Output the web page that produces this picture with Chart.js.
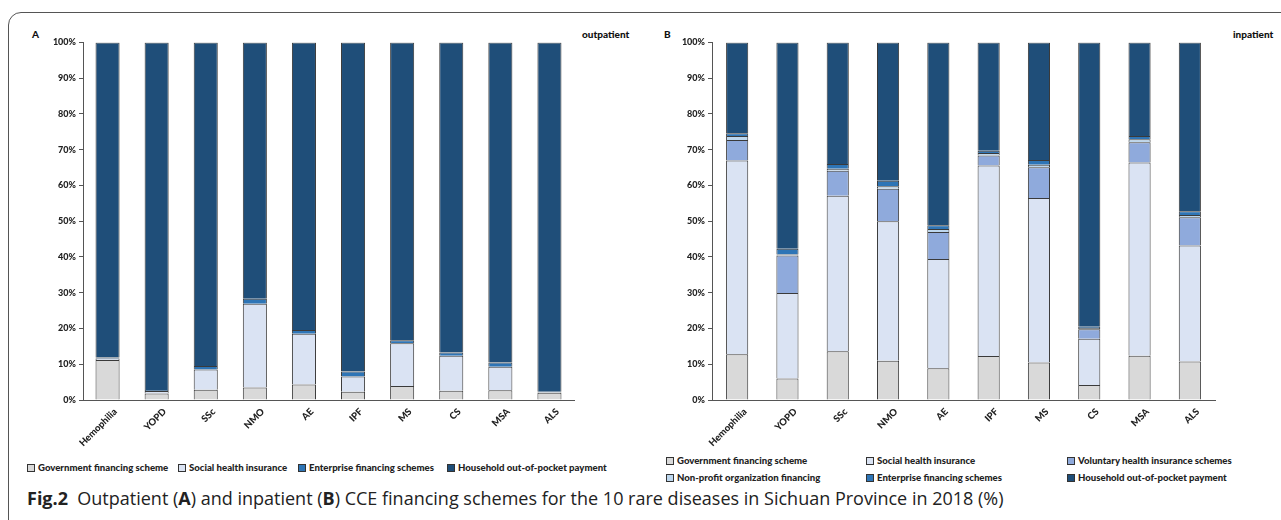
<!DOCTYPE html>
<html>
<head>
<meta charset="utf-8">
<script src="https://cdn.jsdelivr.net/npm/chart.js@4.4.1/dist/chart.umd.min.js"></script>
<style>
  body { margin: 0; background: #fff; width: 1281px; height: 520px; overflow: hidden; position: relative; font-family: 'Lato', sans-serif; }
  .frame { position: absolute; left: 8px; top: 12px; width: 1320px; height: 530px; border: 1.5px solid #555; border-radius: 13px; box-sizing: border-box; }
  canvas { position: absolute; }
  .tag { position: absolute; font-weight: 900; font-size: 10px; color: #111; }
  .legend { position: absolute; font-weight: 900; font-size: 9.6px; color: #222; white-space: nowrap; }
  .legend span.item { position: absolute; display: flex; align-items: center; }
  .legend i { display: inline-block; width: 6px; height: 6px; border: 1px solid #333; margin-right: 3px; }
  .caption { position: absolute; left: 27px; top: 486px; font-family: 'Open Sans', sans-serif; font-size: 18px; color: #222; white-space: nowrap; }
</style>
</head>
<body>
<div class="frame"></div>

<div class="tag" style="left:32px; top:28px;">A</div>
<div class="tag" style="left:582px; top:28px;">outpatient</div>
<div class="tag" style="left:664px; top:28px;">B</div>
<div class="tag" style="left:1233px; top:28px;">inpatient</div>

<canvas id="chartA" width="570" height="420" style="left:20px; top:34px;"></canvas>
<canvas id="chartB" width="580" height="420" style="left:649px; top:34px;"></canvas>

<div class="legend" id="legendA"></div>
<div class="legend" id="legendB"></div>

<div class="caption"><b>Fig.2</b>&nbsp; Outpatient (<b>A</b>) and inpatient (<b>B</b>) CCE financing schemes for the 10 rare diseases in Sichuan Province in 2018 (%)</div>

<script>
const diseases = ['Hemophilia', 'YOPD', 'SSc', 'NMO', 'AE', 'IPF', 'MS', 'CS', 'MSA', 'ALS'];
const yTicks = [0, 10, 20, 30, 40, 50, 60, 70, 80, 90, 100];

// outpatient (%)
const opGov        = [11.2, 1.8, 2.9, 3.5, 4.3, 2.3, 3.9, 2.6, 2.7, 2.0];
const opSocial     = [0.4, 0.7, 5.6, 23.4, 14.2, 4.3, 12.0, 9.8, 6.6, 0.2];
const opEnterprise = [0.3, 0.3, 1.0, 1.4, 1.1, 1.4, 0.8, 0.9, 1.2, 0.1];
const opHousehold  = [88.1, 97.2, 90.5, 71.7, 80.4, 92.0, 83.3, 86.7, 89.5, 97.7];

// inpatient (%)
const ipGov        = [12.8, 6.0, 13.6, 11.0, 8.9, 12.3, 10.5, 4.2, 12.4, 10.8];
const ipSocial     = [54.2, 23.9, 43.5, 39.0, 30.5, 53.3, 46.0, 12.9, 54.0, 32.4];
const ipVoluntary  = [5.7, 10.5, 7.0, 9.1, 7.6, 2.8, 8.6, 2.7, 5.7, 7.9];
const ipNonprofit  = [1.1, 0.3, 0.6, 0.7, 0.8, 0.7, 0.7, 0.3, 0.8, 0.6];
const ipEnterprise = [0.8, 1.6, 1.3, 1.5, 1.1, 0.6, 1.3, 0.4, 0.9, 1.1];
const ipHousehold  = [25.4, 57.7, 34.0, 38.7, 51.1, 30.3, 32.9, 79.5, 26.2, 47.2];

const colors = {
  gov: '#d9d9d9', social: '#dae3f3', voluntary: '#8faadc',
  nonprofit: '#bdd7ee', enterprise: '#2e75b6', household: '#1f4e79'
};

const seriesA = [
  { label: 'Government financing scheme', data: opGov, color: colors.gov },
  { label: 'Social health insurance', data: opSocial, color: colors.social },
  { label: 'Enterprise financing schemes', data: opEnterprise, color: colors.enterprise },
  { label: 'Household out-of-pocket payment', data: opHousehold, color: colors.household }
];
const seriesB = [
  { label: 'Government financing scheme', data: ipGov, color: colors.gov },
  { label: 'Social health insurance', data: ipSocial, color: colors.social },
  { label: 'Voluntary health insurance schemes', data: ipVoluntary, color: colors.voluntary },
  { label: 'Non-profit organization financing', data: ipNonprofit, color: colors.nonprofit },
  { label: 'Enterprise financing schemes', data: ipEnterprise, color: colors.enterprise },
  { label: 'Household out-of-pocket payment', data: ipHousehold, color: colors.household }
];

const yFont = { family: 'Lato', weight: '900', size: 9 };
const xFont = { family: 'Lato', weight: '900', size: 9.5 };

function makeChart(id, series, barPct, padRight) {
  return new Chart(document.getElementById(id), {
    type: 'bar',
    data: {
      labels: diseases,
      datasets: series.map(s => ({
        label: s.label, data: s.data,
        backgroundColor: s.color, borderColor: '#3a3a3a', borderWidth: 1,
        categoryPercentage: 1, barPercentage: barPct
      }))
    },
    options: {
      responsive: false, animation: false,
      layout: { padding: { top: 7, right: padRight, left: 0, bottom: 0 } },
      plugins: { legend: { display: false }, tooltip: { enabled: false } },
      scales: {
        x: {
          stacked: true,
          afterFit: s => { s.height = 54; },
          grid: { drawOnChartArea: false, drawTicks: false, color: '#555' },
          border: { color: '#555', width: 1 },
          ticks: { color: '#222', font: xFont, minRotation: 45, maxRotation: 45, padding: 6, labelOffset: 8 }
        },
        y: {
          stacked: true, min: 0, max: 100,
          afterFit: s => { s.width = 63; },
          afterBuildTicks: s => { s.ticks = yTicks.map(v => ({ value: v })); },
          grid: { drawOnChartArea: false, tickLength: 4, color: '#555' },
          border: { color: '#555', width: 1 },
          ticks: { color: '#222', font: yFont, padding: 3, callback: v => v + '%' }
        }
      }
    }
  });
}

makeChart('chartA', seriesA, 0.49, 16);
makeChart('chartB', seriesB, 0.44, 14);

// html legends
function legendItem(s, x, y) {
  return `<span class="item" style="left:${x}px; top:${y}px;"><i style="background:${s.color}"></i>${s.label}</span>`;
}
const legA = document.getElementById('legendA');
legA.style.left = '0px'; legA.style.top = '0px';
const posA = [[27, 462], [178, 462], [298, 462], [447, 462]];
legA.innerHTML = seriesA.map((s, i) => legendItem(s, posA[i][0], posA[i][1])).join('');

const legB = document.getElementById('legendB');
legB.style.left = '0px'; legB.style.top = '0px';
const posB = [[666, 455], [866, 455], [1067, 455], [666, 472], [866, 472], [1067, 472]];
legB.innerHTML = seriesB.map((s, i) => legendItem(s, posB[i][0], posB[i][1])).join('');
</script>
</body>
</html>
